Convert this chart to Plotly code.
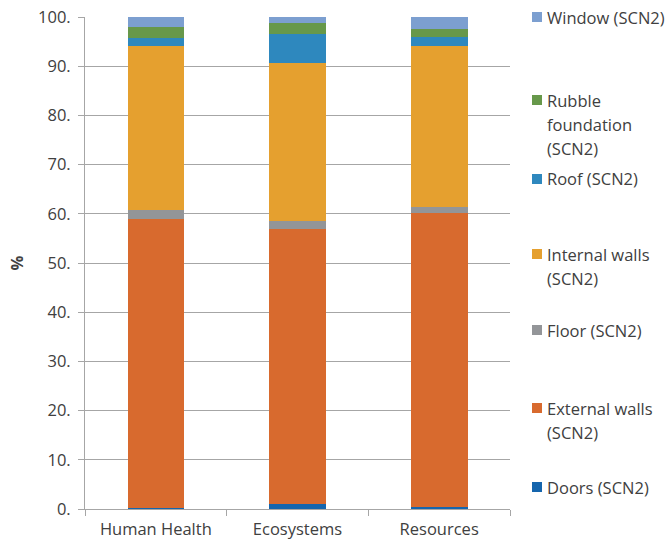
import plotly.graph_objects as go

categories = ["Human Health", "Ecosystems", "Resources"]

doors = [0.3, 1.0, 0.4]
external_walls = [58.6, 55.9, 59.7]
floor = [1.9, 1.6, 1.3]
internal_walls = [33.3, 32.1, 32.7]
roof = [1.6, 6.0, 1.9]
rubble_foundation = [2.3, 2.1, 1.5]
window = [2.0, 1.3, 2.5]

series_names = ["Doors (SCN2)", "External walls (SCN2)", "Floor (SCN2)",
                "Internal walls (SCN2)", "Roof (SCN2)",
                "Rubble foundation (SCN2)", "Window (SCN2)"]
series_values = [doors, external_walls, floor, internal_walls, roof,
                 rubble_foundation, window]
colors = ["#1565AD", "#D86A2E", "#939598", "#E5A02F", "#2E88BE",
          "#67984A", "#7C9FD0"]

tick_vals = [0, 10, 20, 30, 40, 50, 60, 70, 80, 90, 100]
tick_text = ["0.", "10.", "20.", "30.", "40.", "50.", "60.", "70.", "80.", "90.", "100."]

# legend layout (label lines, vertical pixel position of first line)
legend_lines = [
    (["Window (SCN2)"], 17),
    (["Rubble", "foundation", "(SCN2)"], 100),
    (["Roof (SCN2)"], 179),
    (["Internal walls", "(SCN2)"], 254),
    (["Floor (SCN2)"], 330),
    (["External walls", "(SCN2)"], 408),
    (["Doors (SCN2)"], 487),
]
legend_colors = list(reversed(colors))

FONT = "Open Sans"
FS = 16.5
TXT = "#404040"
fig = go.Figure()
for name, vals, col in zip(series_names, series_values, colors):
    fig.add_trace(go.Bar(x=categories, y=vals, name=name,
                         marker=dict(color=col, line=dict(width=0)),
                         width=0.4, showlegend=False))

W, H = 671, 540
ml, mr, mt, mb = 85, 161, 17, 31
plot_h = H - mt - mb

def py(ypix):
    return (H - mb - ypix) / plot_h

annotations = []
shapes = []
line_gap = 24
for (lines, y0), col in zip(legend_lines, legend_colors):
    for i, t in enumerate(lines):
        annotations.append(dict(
            xref="paper", yref="paper", x=(545 - ml) / (W - ml - mr),
            y=py(y0 + i * line_gap), text=t, showarrow=False,
            xanchor="left", yanchor="middle",
            font=dict(family=FONT, size=FS, color=TXT)))
    x0 = (532 - ml) / (W - ml - mr)
    x1 = (542 - ml) / (W - ml - mr)
    shapes.append(dict(type="rect", xref="paper", yref="paper",
                       x0=x0, x1=x1, y0=py(y0 + 5), y1=py(y0 - 5),
                       fillcolor=col, line=dict(width=0)))

fig.update_layout(
    barmode="stack",
    width=W, height=H,
    margin=dict(l=ml, r=mr, t=mt, b=mb),
    plot_bgcolor="white", paper_bgcolor="white",
    font=dict(family=FONT, size=FS, color=TXT),
    bargap=0.6,
    annotations=annotations,
    shapes=shapes,
    xaxis=dict(type="category", showline=True, linecolor="#a6a6a6",
               linewidth=1, ticks="outside", tickson="boundaries",
               ticklen=6, tickcolor="#a6a6a6", showgrid=False,
               automargin=False, ticklabelstandoff=5,
               tickfont=dict(family=FONT, size=FS, color=TXT)),
    yaxis=dict(range=[0, 100], tickvals=tick_vals, ticktext=tick_text,
               showline=True, linecolor="#a6a6a6", linewidth=1,
               ticks="outside", ticklen=6, tickcolor="#a6a6a6",
               showgrid=True, gridcolor="#a6a6a6", gridwidth=1,
               zeroline=False, automargin=False, ticklabelstandoff=4,
               tickfont=dict(family=FONT, size=FS, color=TXT),
               title=dict(text="<b>%</b>", standoff=10,
                          font=dict(family=FONT, size=FS, color=TXT))),
)

fig.write_html("out.html")
